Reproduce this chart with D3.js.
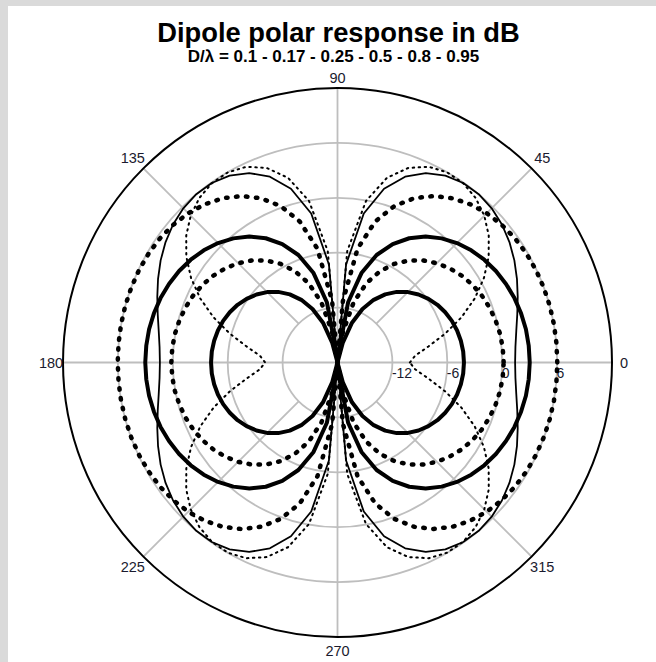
<!DOCTYPE html>
<html>
<head>
<meta charset="utf-8">
<script src="https://cdnjs.cloudflare.com/ajax/libs/d3/7.8.5/d3.min.js"></script>
<style>
  html, body { margin: 0; padding: 0; background: #fff; }
  svg { display: block; font-family: "Liberation Sans", Arial, sans-serif; }
</style>
</head>
<body>
<div id="chart"></div>
<script>
/* global d3 */

// Angles read in the first quadrant (degrees). The response is symmetric,
// so the other three quadrants are mirrored from these values.
var angleDeg = [0, 5, 10, 15, 20, 25, 30, 35, 40, 45, 50, 55, 60, 65, 70, 75, 80, 85, 90];

var ratios = ["0.1", "0.17", "0.25", "0.5", "0.8", "0.95"];

// Level in dB at each angle, one array per D/lambda (floor of the axis is -18).
var db010 = [-4.18, -4.21, -4.31, -4.47, -4.70, -5.01, -5.39, -5.87, -6.44, -7.12, -7.93, -8.91, -10.09, -11.54, -13.37, -15.79, -18, -18, -18];
var db017 = [0.16, 0.13, 0.04, -0.12, -0.34, -0.62, -0.99, -1.44, -1.99, -2.65, -3.44, -4.39, -5.55, -6.98, -8.79, -11.20, -14.65, -18, -18];
var db025 = [3.01, 2.98, 2.91, 2.77, 2.58, 2.32, 1.99, 1.58, 1.08, 0.46, -0.29, -1.20, -2.32, -3.72, -5.50, -7.88, -11.31, -17.28, -18];
var db050 = [6.02, 6.02, 6.02, 6.01, 5.98, 5.93, 5.83, 5.67, 5.42, 5.07, 4.57, 3.91, 3.01, 1.81, 0.20, -2.04, -5.37, -11.28, -18];
var db080 = [1.41, 1.52, 1.84, 2.34, 2.96, 3.64, 4.32, 4.94, 5.46, 5.83, 6.01, 5.95, 5.58, 4.84, 3.61, 1.66, -1.46, -7.24, -18];
var db095 = [-10.09, -9.49, -7.91, -5.82, -3.59, -1.45, 0.48, 2.17, 3.58, 4.69, 5.48, 5.93, 5.99, 5.60, 4.63, 2.90, -0.08, -5.77, -18];

var radialTicks = [-12, -6, 0, 6];
var angleTicks = [0, 45, 90, 135, 180, 225, 270, 315];
var radialDomain = [-18, 12];

var title = "Dipole polar response in dB";
var subtitle = "D/\u03bb = " + ratios.join(" - ");

var width = 656,
  height = 662,
  cx = 337.5,
  cy = 362.5,
  outerR = 274.5;

// line look per series, same order as ratios
var lineStyles = [
  {w: 4, dash: null},
  {w: 4.5, dash: "1.5 8.5"},
  {w: 4, dash: null},
  {w: 4.5, dash: "1.5 8.5"},
  {w: 1.8, dash: null},
  {w: 2, dash: "1.5 4.5"}
];

var series = [db010, db017, db025, db050, db080, db095];

var rScale = d3.scaleLinear()
    .domain(radialDomain)
    .range([0, outerR])
    .clamp(true);

// mirror the quadrant into a full turn, ordered by angle
function fullTurn(values) {
  var n = angleDeg.length, pts = [], i;
  for (i = 0; i < n; i++) pts.push([angleDeg[i], values[i]]);
  for (i = n - 2; i >= 0; i--) pts.push([180 - angleDeg[i], values[i]]);
  for (i = 1; i < n; i++) pts.push([180 + angleDeg[i], values[i]]);
  for (i = n - 2; i > 0; i--) pts.push([360 - angleDeg[i], values[i]]);
  return pts;
}

function rad(deg) { return (90 - deg) * Math.PI / 180; }

// how far outside the rim each angle label sits
function labelGap(d) {
  if (d === 90) return 10;
  if (d === 270) return 14;
  if (d === 0 || d === 180) return 12;
  return 15;
}

var svg = d3.select("#chart").append("svg")
    .attr("width", width)
    .attr("height", height);

// grey frame on the top and left edges
svg.append("rect").attr("width", width).attr("height", height).attr("fill", "#dadada");
svg.append("rect").attr("x", 8).attr("y", 6)
    .attr("width", width - 8).attr("height", height - 6).attr("fill", "#fff");

svg.append("text")
    .attr("x", cx + 1).attr("y", 42)
    .attr("text-anchor", "middle")
    .attr("font-weight", "bold")
    .attr("font-size", 27.3)
    .text(title);

svg.append("text")
    .attr("x", cx - 4).attr("y", 62)
    .attr("text-anchor", "middle")
    .attr("font-weight", "bold")
    .attr("font-size", 17)
    .text(subtitle);

var g = svg.append("g").attr("transform", "translate(" + cx + "," + cy + ")");

// grid rings
g.selectAll("circle.ring")
  .data(radialTicks)
  .enter().append("circle")
    .attr("class", "ring")
    .attr("r", function (d) { return rScale(d); })
    .attr("fill", "none")
    .attr("stroke", "#bebebe")
    .attr("stroke-width", 1.8);

// spokes: the axes cross the centre, diagonals start at the first ring
g.selectAll("line.spoke")
  .data(angleTicks)
  .enter().append("line")
    .attr("class", "spoke")
    .attr("x1", function (d) { var r0 = d % 90 === 0 ? 0 : rScale(radialTicks[0]); return r0 * Math.cos(d * Math.PI / 180); })
    .attr("y1", function (d) { var r0 = d % 90 === 0 ? 0 : rScale(radialTicks[0]); return -r0 * Math.sin(d * Math.PI / 180); })
    .attr("x2", function (d) { return outerR * Math.cos(d * Math.PI / 180); })
    .attr("y2", function (d) { return -outerR * Math.sin(d * Math.PI / 180); })
    .attr("stroke", "#bebebe")
    .attr("stroke-width", 1.8);

g.append("circle")
    .attr("r", rScale(radialDomain[1]))
    .attr("fill", "none")
    .attr("stroke", "#000")
    .attr("stroke-width", 2);

// radial tick labels along the 0 degree axis
g.selectAll("text.rlab")
  .data(radialTicks)
  .enter().append("text")
    .attr("class", "rlab")
    .attr("x", function (d) { return rScale(d) - 0.5; })
    .attr("y", 15)
    .attr("font-size", 14)
    .attr("fill", "#1a1a2e")
    .text(function (d) { return d; });

// angle labels outside the rim
g.selectAll("text.alab")
  .data(angleTicks)
  .enter().append("text")
    .attr("class", "alab")
    .attr("x", function (d) { return (outerR + labelGap(d)) * Math.cos(d * Math.PI / 180); })
    .attr("y", function (d) { return -(outerR + labelGap(d)) * Math.sin(d * Math.PI / 180); })
    .attr("dy", "0.36em")
    .attr("text-anchor", "middle")
    .attr("font-size", 14.5)
    .attr("fill", "#1a1a2e")
    .text(function (d) { return d; });

var line = d3.lineRadial()
    .angle(function (d) { return rad(d[0]); })
    .radius(function (d) { return rScale(d[1]); })
    .curve(d3.curveLinearClosed);

g.selectAll("path.resp")
  .data(series)
  .enter().append("path")
    .attr("class", "resp")
    .attr("d", function (d) { return line(fullTurn(d)); })
    .attr("fill", "none")
    .attr("stroke", "#000")
    .attr("stroke-width", function (d, i) { return lineStyles[i].w; })
    .attr("stroke-dasharray", function (d, i) { return lineStyles[i].dash; })
    .attr("stroke-linecap", function (d, i) { return lineStyles[i].dash ? "round" : "butt"; })
    .attr("stroke-linejoin", "round");
</script>
</body>
</html>
